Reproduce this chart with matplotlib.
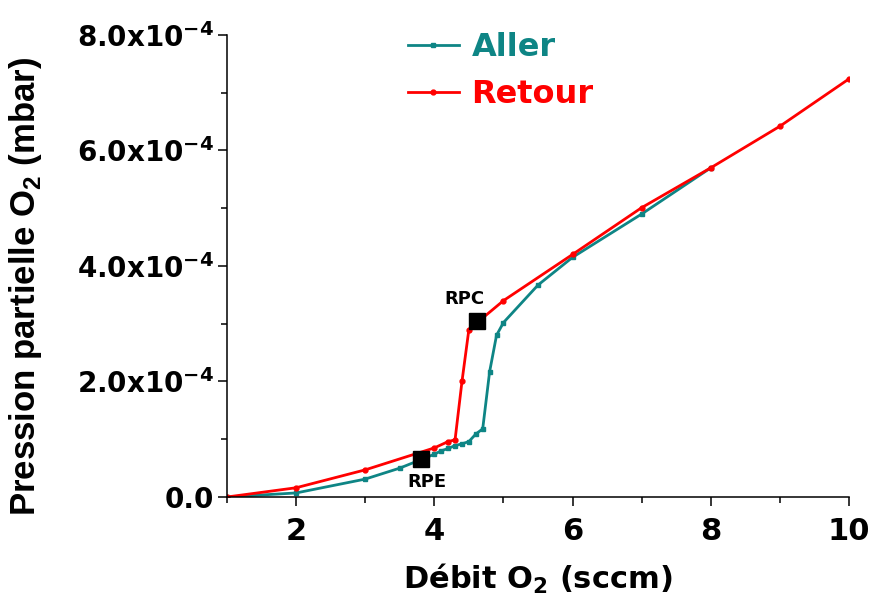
import matplotlib.pyplot as plt
from matplotlib.ticker import MultipleLocator, FuncFormatter

# Aller (montee du debit O2)
aller_x = [1, 2, 3, 3.5, 4.0, 4.1, 4.2, 4.3, 4.4, 4.5, 4.6, 4.7, 4.8, 4.9, 5.0, 5.5, 6, 7, 8]
aller_y = [0, 0.7e-5, 3.1e-5, 5.0e-5, 7.4e-5, 8.0e-5, 8.4e-5, 8.9e-5, 9.2e-5, 9.6e-5,
           1.09e-4, 1.18e-4, 2.17e-4, 2.80e-4, 3.02e-4, 3.67e-4, 4.15e-4, 4.90e-4, 5.70e-4]

# Retour (descente du debit O2)
retour_x = [1, 2, 3, 4.0, 4.2, 4.3, 4.4, 4.5, 5, 6, 7, 8, 9, 10]
retour_y = [0, 1.6e-5, 4.7e-5, 8.5e-5, 9.6e-5, 9.9e-5, 2.0e-4, 2.9e-4,
            3.4e-4, 4.2e-4, 5.01e-4, 5.7e-4, 6.42e-4, 7.24e-4]

# points de transition
rp_labels = ['RPE', 'RPC']
rp_x = [3.8, 4.62]
rp_y = [6.5e-5, 3.05e-4]

teal = '#0e8585'
red = '#ff0000'

fig = plt.figure(figsize=(8.69, 5.98), dpi=100)
ax = fig.add_axes([0.2612, 0.1689, 0.977 - 0.2612, 0.9415 - 0.1689])

ax.plot(aller_x, aller_y, '-s', color=teal, lw=2, ms=3.5, label='Aller')
ax.plot(retour_x, retour_y, '-o', color=red, lw=2, ms=3.5, label='Retour')
ax.plot(rp_x, rp_y, 's', color='black', ms=12, zorder=5)

ax.text(rp_x[0] + 0.1, rp_y[0] - 3.9e-5, rp_labels[0], fontsize=13, fontweight='bold',
        ha='center', va='center')
ax.text(rp_x[1] - 0.18, rp_y[1] + 3.7e-5, rp_labels[1], fontsize=13, fontweight='bold',
        ha='center', va='center')

ax.set_xlim(1, 10)
ax.set_ylim(0, 8e-4)

ax.spines['top'].set_visible(False)
ax.spines['right'].set_visible(False)
ax.spines['left'].set_linewidth(1.1)
ax.spines['bottom'].set_linewidth(1.1)

ax.xaxis.set_major_locator(MultipleLocator(2))
ax.xaxis.set_minor_locator(MultipleLocator(1))
ax.yaxis.set_major_locator(MultipleLocator(2e-4))
ax.yaxis.set_minor_locator(MultipleLocator(1e-4))


def yfmt(v, pos):
    if abs(v) < 1e-12:
        return '0.0'
    return r'$\mathbf{%.1fx10^{-4}}$' % (v * 1e4)


ax.yaxis.set_major_formatter(FuncFormatter(yfmt))
ax.tick_params(which='major', direction='out', length=6.5, width=1.1, labelsize=20, pad=3)
ax.tick_params(axis='x', which='major', labelsize=22, pad=8)
ax.tick_params(which='minor', direction='out', length=4, width=1.1)
for lab in ax.get_xticklabels() + ax.get_yticklabels():
    lab.set_fontweight('bold')

ax.set_xlabel(r'Débit O$_\mathbf{2}$ (sccm)', fontsize=22, fontweight='bold')
ax.set_ylabel(r'Pression partielle O$_\mathregular{2}$ (mbar)', fontsize=25,
              fontweight='bold', family='Liberation Sans')
ax.xaxis.set_label_coords(0.5, -0.14)
ax.yaxis.set_label_coords(-0.294, 0.455)

leg = ax.legend(loc='upper left', bbox_to_anchor=(0.244, 1.068), frameon=False,
                prop={'size': 23, 'weight': 'bold'}, handlelength=1.6,
                handletextpad=0.4, labelspacing=0.5)
for txt, c in zip(leg.get_texts(), [teal, red]):
    txt.set_color(c)

plt.savefig('out.png', dpi=100)
